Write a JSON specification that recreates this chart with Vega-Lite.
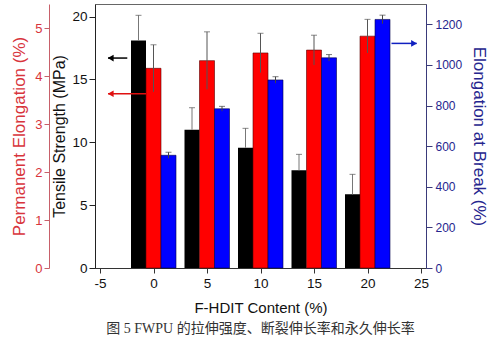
{
  "$schema": "https://vega.github.io/schema/vega-lite/v6.json",
  "width": 331,
  "height": 264,
  "autosize": "none",
  "padding": {"left": 95, "top": 4, "right": 74, "bottom": 88},
  "background": "white",
  "config": {
    "view": {"stroke": "#666", "strokeWidth": 1},
    "font": "Liberation Sans",
    "axis": {"grid": false, "titleFontWeight": "normal", "labelFont": "Liberation Sans", "titleFont": "Liberation Sans"}
  },
  "title": {
    "text": "图 5 FWPU 的拉伸强度、断裂伸长率和永久伸长率",
    "orient": "bottom",
    "anchor": "middle",
    "offset": 6,
    "font": "Liberation Serif, Noto Sans CJK SC",
    "fontSize": 14,
    "fontWeight": "normal",
    "color": "#333"
  },
  "datasets": {
    "d": [
      {"c": 0, "ts": 18.1, "ts_lo": 16.1, "ts_hi": 20.1, "pe": 4.16, "pe_lo": 3.67, "pe_hi": 4.65, "eb": 555, "eb_lo": 540, "eb_hi": 570},
      {"c": 5, "ts": 11.0, "ts_lo": 9.25, "ts_hi": 12.75, "pe": 4.32, "pe_lo": 3.72, "pe_hi": 4.92, "eb": 784, "eb_lo": 772, "eb_hi": 796},
      {"c": 10, "ts": 9.57, "ts_lo": 8.03, "ts_hi": 11.11, "pe": 4.48, "pe_lo": 4.07, "pe_hi": 4.89, "eb": 926, "eb_lo": 910, "eb_hi": 942},
      {"c": 15, "ts": 7.77, "ts_lo": 6.5, "ts_hi": 9.04, "pe": 4.54, "pe_lo": 4.23, "pe_hi": 4.85, "eb": 1035, "eb_lo": 1019, "eb_hi": 1051},
      {"c": 20, "ts": 5.86, "ts_lo": 4.27, "ts_hi": 7.45, "pe": 4.83, "pe_lo": 4.48, "pe_hi": 5.18, "eb": 1224, "eb_lo": 1203, "eb_hi": 1245}
    ],
    "arr_ts": [{"a": -4.25, "b": -2.45, "h": -4.0, "y": 16.7}],
    "arr_pe": [{"a": -4.25, "b": -0.7, "h": -4.0, "y": 3.63}],
    "arr_eb": [{"a": 22.24, "b": 24.6, "h": 24.35, "y": 1106}]
  },
  "layer": [
    {
      "layer": [
        {
          "data": {"name": "d"},
          "mark": {"type": "bar", "width": 15, "xOffset": -15, "color": "#000"},
          "encoding": {
            "x": {
              "field": "c", "type": "quantitative",
              "scale": {"domain": [-5, 25], "nice": false, "zero": false},
              "axis": {
                "title": "F-HDIT Content (%)",
                "values": [-5, -2.5, 0, 2.5, 5, 7.5, 10, 12.5, 15, 17.5, 20, 22.5, 25],
                "labelExpr": "datum.value % 5 === 0 ? (datum.value + '') : ''",
                "tickSize": 5,
                "tickDash": {"condition": {"test": "datum.value % 5 !== 0", "value": [3, 20]}, "value": []},
                "labelFlush": false,
                "labelFontSize": 13.5,
                "labelColor": "#111",
                "labelPadding": 3,
                "titleFontSize": 15,
                "titleColor": "#111",
                "titlePadding": 11,
                "domainColor": "#333",
                "tickColor": "#333"
              }
            },
            "y": {
              "field": "ts", "type": "quantitative",
              "scale": {"domain": [0, 21], "nice": false},
              "axis": {
                "orient": "left",
                "title": "Tensile Strength (MPa)",
                "values": [0, 2.5, 5, 7.5, 10, 12.5, 15, 17.5, 20],
                "labelExpr": "datum.value % 5 === 0 ? (datum.value + '') : ''",
                "tickSize": 6,
                "tickDash": {"condition": {"test": "datum.value % 5 !== 0", "value": [3, 20]}, "value": []},
                "labelFontSize": 13.5,
                "labelColor": "#111",
                "labelPadding": 2,
                "titleFontSize": 16,
                "titleColor": "#111",
                "titlePadding": 4,
                "domainColor": "#222",
                "tickColor": "#222"
              }
            }
          }
        },
        {
          "data": {"name": "d"},
          "mark": {"type": "rule", "color": "#777", "strokeWidth": 1, "xOffset": -15},
          "encoding": {
            "x": {"field": "c", "type": "quantitative"},
            "y": {"field": "ts", "type": "quantitative"},
            "y2": {"field": "ts_hi"}
          }
        },
        {
          "data": {"name": "d"},
          "mark": {"type": "tick", "orient": "horizontal", "color": "#555", "size": 6, "thickness": 1, "xOffset": -15},
          "encoding": {
            "x": {"field": "c", "type": "quantitative"},
            "y": {"field": "ts_hi", "type": "quantitative"}
          }
        },
        {
          "data": {"name": "arr_ts"},
          "mark": {"type": "rule", "color": "#000", "strokeWidth": 1.5},
          "encoding": {
            "x": {"field": "a", "type": "quantitative"},
            "x2": {"field": "b"},
            "y": {"field": "y", "type": "quantitative"}
          }
        },
        {
          "data": {"name": "arr_ts"},
          "mark": {"type": "point", "shape": "triangle-left", "filled": true, "color": "#000", "size": 45, "opacity": 1},
          "encoding": {
            "x": {"field": "h", "type": "quantitative"},
            "y": {"field": "y", "type": "quantitative"}
          }
        }
      ]
    },
    {
      "layer": [
        {
          "data": {"name": "d"},
          "mark": {"type": "bar", "width": 15, "color": "#ff0000", "stroke": "#5a0000", "strokeWidth": 0.6},
          "encoding": {
            "x": {"field": "c", "type": "quantitative"},
            "y": {
              "field": "pe", "type": "quantitative",
              "scale": {"domain": [0, 5.5], "nice": false},
              "axis": {
                "orient": "left",
                "offset": 46,
                "title": "Permanent Elongation (%)",
                "values": [0, 0.5, 1, 1.5, 2, 2.5, 3, 3.5, 4, 4.5, 5],
                "labelExpr": "datum.value % 1 === 0 ? (datum.value + '') : ''",
                "tickSize": 5,
                "tickDash": {"condition": {"test": "datum.value % 1 !== 0", "value": [3, 20]}, "value": []},
                "labelFontSize": 13,
                "labelColor": "#d8343c",
                "labelPadding": 2,
                "titleFontSize": 17,
                "titleColor": "#d8343c",
                "titlePadding": 6,
                "domainColor": "#c8606a",
                "tickColor": "#c8606a"
              }
            }
          }
        },
        {
          "data": {"name": "d"},
          "mark": {"type": "rule", "color": "#555", "strokeWidth": 1},
          "encoding": {
            "x": {"field": "c", "type": "quantitative"},
            "y": {"field": "pe_lo", "type": "quantitative"},
            "y2": {"field": "pe_hi"}
          }
        },
        {
          "data": {"name": "d"},
          "mark": {"type": "tick", "orient": "horizontal", "color": "#555", "size": 6, "thickness": 1},
          "encoding": {
            "x": {"field": "c", "type": "quantitative"},
            "y": {"field": "pe_hi", "type": "quantitative"}
          }
        },
        {
          "data": {"name": "arr_pe"},
          "mark": {"type": "rule", "color": "#e01010", "strokeWidth": 1.5},
          "encoding": {
            "x": {"field": "a", "type": "quantitative"},
            "x2": {"field": "b"},
            "y": {"field": "y", "type": "quantitative"}
          }
        },
        {
          "data": {"name": "arr_pe"},
          "mark": {"type": "point", "shape": "triangle-left", "filled": true, "color": "#e01010", "size": 45, "opacity": 1},
          "encoding": {
            "x": {"field": "h", "type": "quantitative"},
            "y": {"field": "y", "type": "quantitative"}
          }
        }
      ]
    },
    {
      "layer": [
        {
          "data": {"name": "d"},
          "mark": {"type": "bar", "width": 15, "xOffset": 15, "color": "#0000ff", "stroke": "#00004a", "strokeWidth": 0.6},
          "encoding": {
            "x": {"field": "c", "type": "quantitative"},
            "y": {
              "field": "eb", "type": "quantitative",
              "scale": {"domain": [0, 1300], "nice": false},
              "axis": {
                "orient": "right",
                "title": "Elongation at Break (%)",
                "values": [0, 100, 200, 300, 400, 500, 600, 700, 800, 900, 1000, 1100, 1200],
                "labelExpr": "datum.value % 200 === 0 ? (datum.value + '') : ''",
                "tickSize": 6,
                "tickDash": {"condition": {"test": "datum.value % 200 !== 0", "value": [3, 20]}, "value": []},
                "labelFontSize": 12,
                "labelColor": "#25258e",
                "labelPadding": 3,
                "titleFontSize": 17,
                "titleColor": "#25258e",
                "titlePadding": 8,
                "domainColor": "#3a3a7a",
                "tickColor": "#3a3a7a"
              }
            }
          }
        },
        {
          "data": {"name": "d"},
          "mark": {"type": "rule", "color": "#444", "strokeWidth": 1, "xOffset": 15},
          "encoding": {
            "x": {"field": "c", "type": "quantitative"},
            "y": {"field": "eb_lo", "type": "quantitative"},
            "y2": {"field": "eb_hi"}
          }
        },
        {
          "data": {"name": "d"},
          "mark": {"type": "tick", "orient": "horizontal", "color": "#444", "size": 6, "thickness": 1, "xOffset": 15},
          "encoding": {
            "x": {"field": "c", "type": "quantitative"},
            "y": {"field": "eb_hi", "type": "quantitative"}
          }
        },
        {
          "data": {"name": "arr_eb"},
          "mark": {"type": "rule", "color": "#1020c0", "strokeWidth": 1.5},
          "encoding": {
            "x": {"field": "a", "type": "quantitative"},
            "x2": {"field": "b"},
            "y": {"field": "y", "type": "quantitative"}
          }
        },
        {
          "data": {"name": "arr_eb"},
          "mark": {"type": "point", "shape": "triangle-right", "filled": true, "color": "#1020c0", "size": 45, "opacity": 1},
          "encoding": {
            "x": {"field": "h", "type": "quantitative"},
            "y": {"field": "y", "type": "quantitative"}
          }
        }
      ]
    }
  ],
  "resolve": {"scale": {"y": "independent"}, "axis": {"y": "independent"}}
}
